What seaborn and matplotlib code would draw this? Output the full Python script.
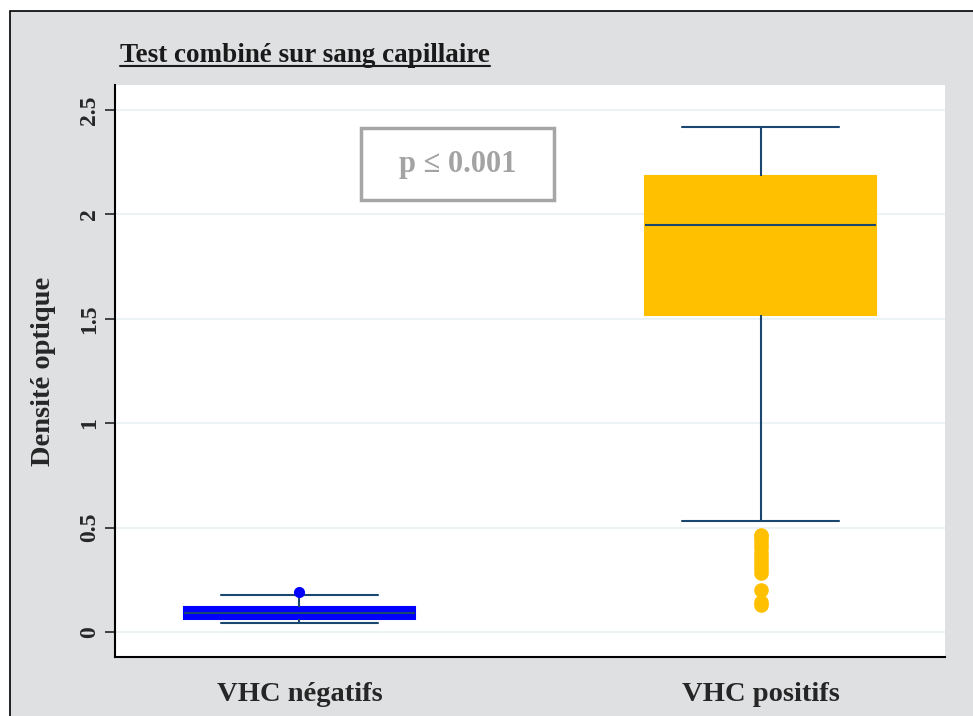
import pandas as pd
import matplotlib
matplotlib.use("Agg")
import matplotlib.pyplot as plt
import seaborn as sns
from matplotlib.patches import Rectangle
from matplotlib.lines import Line2D

# Data
categories = ["VHC négatifs", "VHC positifs"]
# whisker low, Q1, median, Q3, whisker high
neg_values = [0.043, 0.062, 0.090, 0.120, 0.177]
pos_values = [0.532, 1.518, 1.950, 2.184, 2.420]
neg_outliers = [0.193]
pos_outliers = [0.465, 0.46, 0.44, 0.42, 0.40, 0.38, 0.36, 0.34, 0.32, 0.30, 0.28, 0.20, 0.145, 0.13]
y_ticks = [0, 0.5, 1, 1.5, 2, 2.5]
y_tick_labels = ["0", "0.5", "1", "1.5", "2", "2.5"]

title = "Test combiné sur sang capillaire"
y_label = "Densité optique"
p_text = "p ≤ 0.001"

# Colours
blue = "#0000ff"
yellow = "#ffc000"
navy = "#1a476f"
panel_gray = "#dfe0e2"
grid_col = "#eaf2f3"


def make_plot():
    sns.set_style("white")
    plt.rcParams["font.family"] = ["Liberation Serif", "DejaVu Serif"]

    box_df = pd.DataFrame({
        "group": [categories[0]] * len(neg_values) + [categories[1]] * len(pos_values),
        "value": neg_values + pos_values,
    })
    neg_out = pd.DataFrame({"group": [categories[0]] * len(neg_outliers), "value": neg_outliers})
    pos_out = pd.DataFrame({"group": [categories[1]] * len(pos_outliers), "value": pos_outliers})

    fig = plt.figure(figsize=(9.73, 7.16), dpi=100, facecolor="white")

    # grey panel with black frame
    fig.patches.append(Rectangle((10 / 973, -0.01), 1.0, 1 - 11 / 716 + 0.01,
                                 transform=fig.transFigure, facecolor=panel_gray,
                                 edgecolor="black", linewidth=1.2, zorder=-10))

    ax = fig.add_axes([115 / 973, 1 - 657 / 716, (945 - 115) / 973, (657 - 85) / 716])
    ax.set_facecolor("white")

    sns.boxplot(data=box_df, x="group", y="value", hue="group", order=categories,
                hue_order=categories, palette=[blue, yellow], saturation=1, legend=False,
                whis=(0, 100), width=0.5, linecolor=navy, linewidth=1.5,
                fliersize=0, capwidths=0.34, ax=ax)
    for p in ax.patches:
        p.set_edgecolor(p.get_facecolor())

    sns.stripplot(data=neg_out, x="group", y="value", order=categories, color=blue,
                  jitter=False, size=8, linewidth=0, ax=ax, zorder=5)
    sns.stripplot(data=pos_out, x="group", y="value", order=categories, color=yellow,
                  jitter=False, size=10.5, linewidth=0, ax=ax, zorder=5)

    ax.set_xlim(-0.4, 1.4)
    ax.set_ylim(-0.12, 2.62)
    ax.set_yticks(y_ticks)
    ax.set_yticklabels(y_tick_labels, fontsize=17, fontweight="bold", rotation=90, va="center")
    ax.set_xticks([0, 1])
    ax.set_xticklabels(categories, fontsize=20.5, fontweight="bold")
    ax.tick_params(axis="x", length=0, pad=18)
    ax.tick_params(axis="y", length=7, width=1.2, left=True, pad=4)
    ax.yaxis.grid(True, color=grid_col, linewidth=1.3)
    ax.set_axisbelow(True)
    ax.set_xlabel("")
    ax.set_ylabel(y_label, fontsize=20.5, fontweight="bold", labelpad=16)

    for s in ["top", "right"]:
        ax.spines[s].set_visible(False)
    for s in ["left", "bottom"]:
        ax.spines[s].set_color("black")
        ax.spines[s].set_linewidth(1.5)

    # p-value box
    ax.add_patch(Rectangle((0.134, 2.069), 0.419, 0.345, facecolor="white",
                           edgecolor="#a6a6a6", linewidth=2.5, zorder=6))
    ax.text(0.343, 2.24, p_text, ha="center", va="center", fontsize=22,
            fontweight="bold", color="#a3a3a3", zorder=7)

    # underlined title
    t = fig.text(120 / 973, 1 - 62 / 716, title, ha="left", va="baseline",
                 fontsize=19.5, fontweight="bold", color="#1a1a1a")
    fig.canvas.draw()
    bb = t.get_window_extent().transformed(fig.transFigure.inverted())
    y_ul = 1 - 66 / 716
    fig.lines.append(Line2D([bb.x0, bb.x1], [y_ul, y_ul], transform=fig.transFigure,
                            color="#1a1a1a", linewidth=1.5))

    fig.savefig("out.png", dpi=100, facecolor="white")
    plt.close(fig)


if __name__ == "__main__":
    make_plot()
